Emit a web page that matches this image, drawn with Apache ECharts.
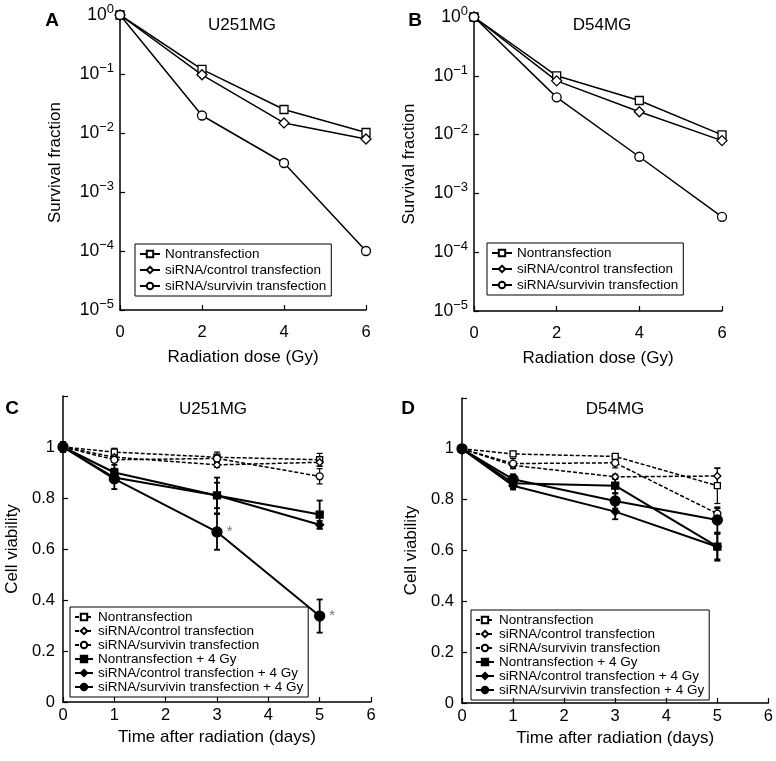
<!DOCTYPE html>
<html><head><meta charset="utf-8">
<script src="https://cdn.jsdelivr.net/npm/echarts@6/dist/echarts.min.js"></script>
<style>html,body{margin:0;padding:0;background:#fff}#c{width:776px;height:761px}</style>
</head><body><div id="c"></div>
<script>
// ---------- data ----------
const doseGy = [0, 2, 4, 6];
const aNon  = [1, 0.12, 0.025, 0.0102];
const aCtrl = [1, 0.097, 0.0148, 0.0079];
const aSurv = [1, 0.0198, 0.0031, 0.0001];
const bNon  = [1, 0.1, 0.038, 0.0099];
const bCtrl = [1, 0.082, 0.0245, 0.0079];
const bSurv = [1, 0.043, 0.0042, 0.0004];

const days = [0, 1, 3, 5];
const cNon      = [1, 0.98, 0.96, 0.95];
const cNonErr   = [0.02, 0.015, 0.02, 0.025];
const cCtrl     = [1, 0.96, 0.93, 0.94];
const cCtrlErr  = [0, 0.01, 0.01, 0.015];
const cSurv     = [1, 0.95, 0.955, 0.885];
const cSurvErr  = [0, 0.01, 0.015, 0.03];
const cNon4     = [1, 0.9, 0.81, 0.735];
const cNon4Err  = [0, 0.03, 0.07, 0.055];
const cCtrl4    = [1, 0.88, 0.81, 0.695];
const cCtrl4Err = [0, 0.02, 0.05, 0.015];
const cSurv4    = [1, 0.875, 0.667, 0.337];
const cSurv4Err = [0.02, 0.04, 0.07, 0.065];
const cStarDays = [3, 5];

const dNon      = [1, 0.98, 0.97, 0.855];
const dNonErr   = [0, 0.01, 0.01, 0.07];
const dCtrl     = [1, 0.935, 0.89, 0.893];
const dCtrlErr  = [0, 0.01, 0.01, 0.03];
const dSurv     = [1, 0.942, 0.945, 0.745];
const dSurvErr  = [0, 0.02, 0.02, 0.02];
const dNon4     = [1, 0.865, 0.855, 0.615];
const dNon4Err  = [0, 0.02, 0.03, 0.05];
const dCtrl4    = [1, 0.855, 0.753, 0.615];
const dCtrl4Err = [0, 0.015, 0.03, 0.055];
const dSurv4    = [1, 0.88, 0.795, 0.72];
const dSurv4Err = [0, 0.02, 0.03, 0.05];

const namesAB = ['Nontransfection', 'siRNA/control transfection', 'siRNA/survivin transfection'];
const namesCD = ['Nontransfection', 'siRNA/control transfection', 'siRNA/survivin transfection',
  'Nontransfection + 4 Gy', 'siRNA/control transfection + 4 Gy', 'siRNA/survivin transfection + 4 Gy'];
const panelTitles = ['U251MG', 'D54MG', 'U251MG', 'D54MG'];
const panelLetters = ['A', 'B', 'C', 'D'];

// ---------- helpers ----------
const FF = '"Liberation Sans", Arial, Helvetica, sans-serif';
const pairs = (xs, ys) => xs.map((x, i) => [x, ys[i]]);
const triples = (xs, ys, es) => xs.map((x, i) => [x, ys[i], es[i]]);

function logLabel(v) {
  const e = Math.round(Math.log10(v));
  return '{b|10}{s|' + (e < 0 ? '\u2212' + (-e) : e) + '}';
}

const axisLineStyle = { show: true, lineStyle: { color: '#000', width: 1.5 } };
const tick = { show: true, inside: true, length: 5, lineStyle: { color: '#000', width: 1.2 } };
const labelFont = { color: '#000', fontSize: 16.5, fontFamily: FF };
const nameFont = { color: '#000', fontSize: 17, fontFamily: FF };

function xAxisCfg(grid, interval, name, gap) {
  return {
    type: 'value', gridIndex: grid, min: 0, max: 6, interval: interval,
    axisLine: axisLineStyle, axisTick: tick, splitLine: { show: false },
    axisLabel: Object.assign({ margin: grid < 2 ? 14 : 5 }, labelFont),
    name: name, nameLocation: 'middle', nameGap: gap, nameTextStyle: nameFont
  };
}

function logYAxis(grid, name) {
  return {
    type: 'log', logBase: 10, gridIndex: grid, min: 1e-5, max: 1,
    axisLine: axisLineStyle, axisTick: tick, splitLine: { show: false }, minorTick: { show: false },
    axisLabel: {
      margin: 6, formatter: logLabel,
      rich: {
        b: { fontSize: 17.5, lineHeight: 24, fontFamily: FF, color: '#000' },
        s: { fontSize: 13, lineHeight: 13, verticalAlign: 'top', fontFamily: FF, color: '#000' }
      }
    },
    name: name, nameLocation: 'middle', nameGap: 56, nameTextStyle: nameFont
  };
}

function linYAxis(grid, name) {
  return {
    type: 'value', gridIndex: grid, min: 0, max: 1.2, interval: 0.2,
    axisLine: axisLineStyle, axisTick: tick, splitLine: { show: false },
    axisLabel: Object.assign({ margin: 8, formatter: v => (v > 1.1 ? '' : String(+v.toFixed(1))) }, labelFont),
    name: name, nameLocation: 'middle', nameGap: 42, nameTextStyle: nameFont
  };
}

function lineSeries(panel, grid, name, data, symbol, size, filled, dashed, extra) {
  return Object.assign({
    type: 'line', name: panel + '|' + name, xAxisIndex: grid, yAxisIndex: grid,
    data: data, symbol: symbol, symbolSize: size, showSymbol: true, showAllSymbol: true,
    animation: false, z: dashed ? 3 : 4,
    lineStyle: { color: '#000', width: dashed ? 1.5 : (grid < 2 ? 1.5 : 2), type: dashed ? [4, 2] : 'solid' },
    itemStyle: { color: filled ? '#000' : '#fff', borderColor: '#000', borderWidth: 1.3 },
    emphasis: { disabled: true }
  }, extra || {});
}

function errSeries(grid, data, lw) {
  return {
    type: 'custom', xAxisIndex: grid, yAxisIndex: grid, data: data, animation: false, z: 2,
    encode: { x: 0, y: 1 }, silent: true,
    renderItem: function (params, api) {
      const x = api.value(0), y = api.value(1), e = api.value(2);
      if (!e) return null;
      const t = api.coord([x, y + e]), b = api.coord([x, y - e]);
      const w = 3;
      const st = { stroke: '#000', lineWidth: lw };
      return {
        type: 'group', children: [
          { type: 'line', shape: { x1: t[0], y1: t[1], x2: b[0], y2: b[1] }, style: st },
          { type: 'line', shape: { x1: t[0] - w, y1: t[1], x2: t[0] + w, y2: t[1] }, style: st },
          { type: 'line', shape: { x1: b[0] - w, y1: b[1], x2: b[0] + w, y2: b[1] }, style: st }
        ]
      };
    }
  };
}

function legendCfg(panel, names, left, top, fs, gap, iw) {
  return {
    data: names.map(n => panel + '|' + n), orient: 'vertical', left: left, top: top,
    itemWidth: iw, itemHeight: 8, itemGap: gap, padding: [3, 5, 3, 4],
    borderColor: '#000', borderWidth: 1, borderRadius: 0, selectedMode: false,
    textStyle: { fontSize: fs, fontFamily: FF, color: '#000', padding: [0, 0, 0, 0] }
  };
}

// ---------- series ----------
const series = [];
// A
series.push(lineSeries('A', 0, namesAB[0], pairs(doseGy, aNon), 'rect', 8, false, false));
series.push(lineSeries('A', 0, namesAB[1], pairs(doseGy, aCtrl), 'diamond', 10, false, false));
series.push(lineSeries('A', 0, namesAB[2], pairs(doseGy, aSurv), 'circle', 9, false, false));
// B
series.push(lineSeries('B', 1, namesAB[0], pairs(doseGy, bNon), 'rect', 8, false, false));
series.push(lineSeries('B', 1, namesAB[1], pairs(doseGy, bCtrl), 'diamond', 10, false, false));
series.push(lineSeries('B', 1, namesAB[2], pairs(doseGy, bSurv), 'circle', 9, false, false));

// C
const starLabel = { show: true, formatter: '*', position: 'right', distance: 4, color: '#777', fontSize: 15, fontFamily: FF };
const cSurv4Data = pairs(days, cSurv4).map(p => cStarDays.indexOf(p[0]) >= 0 ? { value: p, label: starLabel } : p);
series.push(errSeries(2, triples(days, cNon, cNonErr), 1.2));
series.push(errSeries(2, triples(days, cCtrl, cCtrlErr), 1.2));
series.push(errSeries(2, triples(days, cSurv, cSurvErr), 1.2));
series.push(errSeries(2, triples(days, cNon4, cNon4Err), 1.8));
series.push(errSeries(2, triples(days, cCtrl4, cCtrl4Err), 1.8));
series.push(errSeries(2, triples(days, cSurv4, cSurv4Err), 1.8));
series.push(lineSeries('C', 2, namesCD[0], pairs(days, cNon), 'rect', 6, false, true));
series.push(lineSeries('C', 2, namesCD[1], pairs(days, cCtrl), 'diamond', 7, false, true));
series.push(lineSeries('C', 2, namesCD[2], pairs(days, cSurv), 'circle', 7, false, true));
series.push(lineSeries('C', 2, namesCD[3], pairs(days, cNon4), 'rect', 7, true, false));
series.push(lineSeries('C', 2, namesCD[4], pairs(days, cCtrl4), 'diamond', 8, true, false));
series.push(lineSeries('C', 2, namesCD[5], cSurv4Data, 'circle', 10, true, false));

// D
series.push(errSeries(3, triples(days, dNon, dNonErr), 1.2));
series.push(errSeries(3, triples(days, dCtrl, dCtrlErr), 1.2));
series.push(errSeries(3, triples(days, dSurv, dSurvErr), 1.2));
series.push(errSeries(3, triples(days, dNon4, dNon4Err), 1.8));
series.push(errSeries(3, triples(days, dCtrl4, dCtrl4Err), 1.8));
series.push(errSeries(3, triples(days, dSurv4, dSurv4Err), 1.8));
series.push(lineSeries('D', 3, namesCD[0], pairs(days, dNon), 'rect', 6, false, true));
series.push(lineSeries('D', 3, namesCD[1], pairs(days, dCtrl), 'diamond', 7, false, true));
series.push(lineSeries('D', 3, namesCD[2], pairs(days, dSurv), 'circle', 7, false, true));
series.push(lineSeries('D', 3, namesCD[3], pairs(days, dNon4), 'rect', 7, true, false));
series.push(lineSeries('D', 3, namesCD[4], pairs(days, dCtrl4), 'diamond', 8, true, false));
series.push(lineSeries('D', 3, namesCD[5], pairs(days, dSurv4), 'circle', 10, true, false));

// ---------- text ----------
const titlePos = [[242, 25], [602, 25], [213, 409], [615, 409]];
const letterPos = [[52, 21], [415, 21], [12, 409], [408, 409]];
const graphics = [];
panelTitles.forEach((t, i) => graphics.push({
  type: 'text', x: titlePos[i][0], y: titlePos[i][1], silent: true,
  style: { text: t, fontSize: 17, fontFamily: FF, fill: '#000', align: 'center', verticalAlign: 'middle' }
}));
panelLetters.forEach((t, i) => graphics.push({
  type: 'text', x: letterPos[i][0], y: letterPos[i][1], silent: true,
  style: { text: t, fontSize: 19, fontWeight: 'bold', fontFamily: FF, fill: '#000', align: 'center', verticalAlign: 'middle' }
}));

const option = {
  animation: false,
  backgroundColor: '#fff',
  grid: [
    { left: 120, top: 15, width: 246, height: 295 },
    { left: 474, top: 17, width: 248, height: 294 },
    { left: 63, top: 396, width: 308, height: 306 },
    { left: 462, top: 398, width: 309, height: 305 }
  ],
  xAxis: [
    xAxisCfg(0, 2, 'Radiation dose (Gy)', 39),
    xAxisCfg(1, 2, 'Radiation dose (Gy)', 39),
    xAxisCfg(2, 1, 'Time after radiation (days)', 27),
    xAxisCfg(3, 1, 'Time after radiation (days)', 27)
  ],
  yAxis: [
    logYAxis(0, 'Survival fraction'),
    logYAxis(1, 'Survival fraction'),
    linYAxis(2, 'Cell viability'),
    linYAxis(3, 'Cell viability')
  ],
  legend: [
    Object.assign(legendCfg('A', namesAB, 135, 244, 13.5, 2, 20), { formatter: n => n.split('|')[1] }),
    Object.assign(legendCfg('B', namesAB, 487, 243, 13.5, 2, 20), { formatter: n => n.split('|')[1] }),
    Object.assign(legendCfg('C', namesCD, 70, 607, 13.5, 0, 18), { formatter: n => n.split('|')[1] }),
    Object.assign(legendCfg('D', namesCD, 471, 610, 13.5, 0, 18), { formatter: n => n.split('|')[1] })
  ],
  graphic: graphics,
  series: series
};

const chart = echarts.init(document.getElementById('c'), null, { renderer: 'canvas' });
chart.setOption(option);
</script>
</body></html>
